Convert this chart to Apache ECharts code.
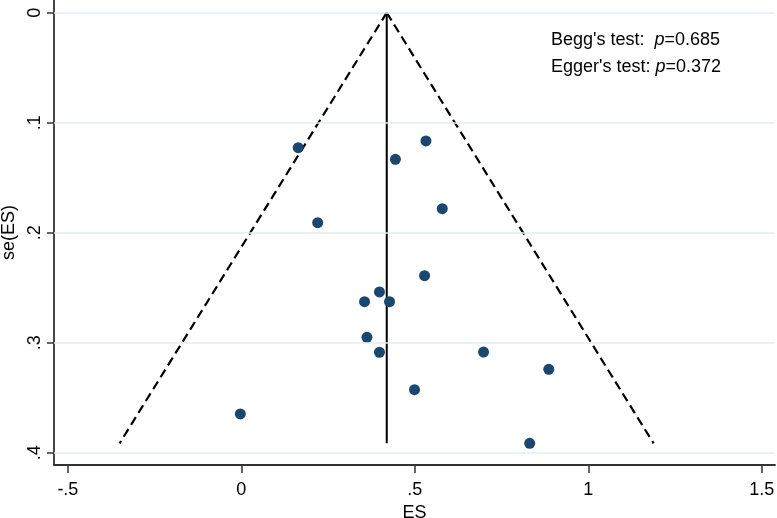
<!DOCTYPE html>
<html>
<head>
<meta charset="utf-8">
<script src="https://cdn.jsdelivr.net/npm/echarts@6/dist/echarts.min.js"></script>
<style>html,body{margin:0;padding:0;background:#fff;}#c{width:777px;height:518px;}</style>
</head>
<body>
<div id="c"></div>
<script>
// Study effect sizes (ES) and standard errors se(ES)
const esValues = [0.164, 0.532, 0.444, 0.579, 0.220, 0.528, 0.398, 0.355, 0.427, 0.362, 0.398, 0.698, 0.886, 0.499, -0.003, 0.831];
const seValues = [0.1227, 0.1166, 0.1333, 0.1782, 0.1909, 0.2391, 0.2539, 0.2627, 0.2627, 0.2951, 0.3087, 0.3085, 0.3242, 0.3427, 0.3648, 0.3915];
// Pooled estimate and funnel limits
const pooledES = 0.419;
const funnelSe = [0, 0.3915];
const funnelLeftES = [0.419, -0.351];
const funnelRightES = [0.419, 1.188];
// Tick values
const xTicks = [-0.5, 0, 0.5, 1, 1.5];
const yTicks = [0, 0.1, 0.2, 0.3, 0.4];
const tests = [["Begg's test:  ", "0.685"], ["Egger's test: ", "0.372"]];

function stataFmt(v) {
  let s = String(Math.round(v * 10) / 10);
  return s.replace(/^0\./, '.').replace(/^-0\./, '-.');
}

const pts = esValues.map((e, i) => [e, seValues[i]]);
const font = '"Liberation Sans", Arial, Helvetica, sans-serif';

const chart = echarts.init(document.getElementById('c'), null, {renderer: 'canvas'});
chart.setOption({
  backgroundColor: '#ffffff',
  animation: false,
  grid: {left: 54, right: 2, top: 0, bottom: 53, containLabel: false, outerBoundsMode: 'none'},
  xAxis: {
    type: 'value', min: -0.540, max: 1.538,
    name: 'ES', nameLocation: 'middle', nameGap: 34,
    nameTextStyle: {fontFamily: font, fontSize: 18, color: '#000'},
    axisLine: {show: true, onZero: false, lineStyle: {color: '#333', width: 1.8}},
    axisTick: {show: true, length: 8, customValues: xTicks, lineStyle: {color: '#333', width: 1.5}},
    axisLabel: {customValues: xTicks, formatter: stataFmt, margin: 16, fontFamily: font, fontSize: 18, color: '#000'},
    splitLine: {show: false}
  },
  yAxis: {
    type: 'value', inverse: true, min: -0.01155, max: 0.4112,
    name: 'se(ES)', nameLocation: 'middle', nameGap: 34.5, nameRotate: 90,
    nameTextStyle: {fontFamily: font, fontSize: 18, color: '#000'},
    axisLine: {show: true, onZero: false, lineStyle: {color: '#333', width: 1.8}},
    axisTick: {show: true, length: 7, customValues: yTicks, lineStyle: {color: '#333', width: 1.5}},
    axisLabel: {customValues: yTicks, formatter: stataFmt, rotate: 90, margin: 10, fontFamily: font, fontSize: 18, color: '#000'},
    splitLine: {show: false}
  },
  series: [
    {
      type: 'line', data: [], silent: true,
      markLine: {
        silent: true, symbol: 'none', label: {show: false},
        lineStyle: {color: '#e4eef3', width: 1.5, type: 'solid'},
        data: yTicks.map(v => ({yAxis: v}))
      },
      z: 1
    },
    {
      type: 'line', data: funnelLeftES.map((e, i) => [e, funnelSe[i]]),
      symbol: 'none', lineStyle: {color: '#000', width: 2.2, type: [9, 5]}, z: 2, silent: true
    },
    {
      type: 'line', data: funnelRightES.map((e, i) => [e, funnelSe[i]]),
      symbol: 'none', lineStyle: {color: '#000', width: 2.2, type: [9, 5]}, z: 2, silent: true
    },
    {
      type: 'line', data: funnelSe.map(s => [pooledES, s]),
      symbol: 'none', lineStyle: {color: '#000', width: 2, type: 'solid'}, z: 2, silent: true
    },
    {
      type: 'scatter', data: pts, symbol: 'circle', symbolSize: 11,
      itemStyle: {color: '#1a476f', opacity: 1}, z: 3
    }
  ],
  graphic: tests.map((t, i) => ({
    type: 'text', left: 551, top: 31 + i * 27,
    style: {
      text: '{n|' + t[0] + '}{i|p}{n|=' + t[1] + '}',
      rich: {
        n: {fontFamily: font, fontSize: 18, fill: '#000'},
        i: {fontFamily: font, fontSize: 18, fontStyle: 'italic', fill: '#000'}
      }
    }
  }))
});
</script>
</body>
</html>
